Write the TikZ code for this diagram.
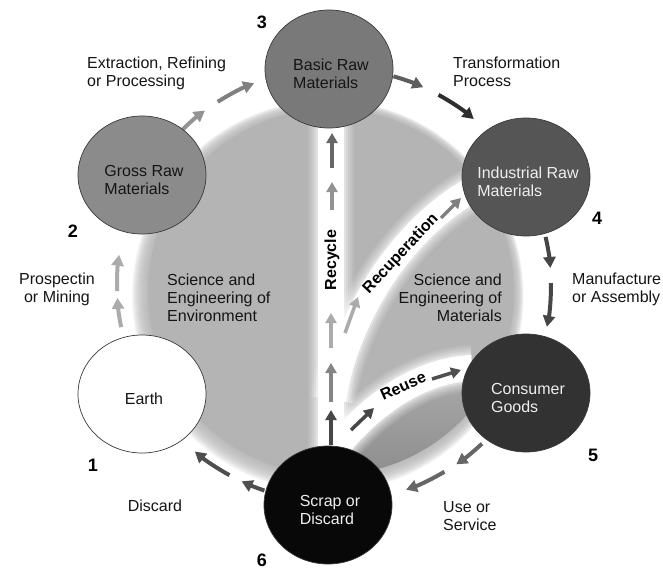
\documentclass[tikz,border=0pt]{standalone}
\usepackage{fontspec}
\setmainfont{Liberation Sans}
\usetikzlibrary{arrows.meta,shapes.geometric}
\definecolor{discgrey}{HTML}{B4B4B4}
\definecolor{lenstop}{HTML}{ABABAB}
\definecolor{lensbot}{HTML}{8C8C8C}
\definecolor{stageline}{HTML}{3A3A3A}
\definecolor{ink}{HTML}{151515}
\definecolor{lighttext}{HTML}{EEEEEE}
\definecolor{grossfill}{HTML}{8B8B8B}
\definecolor{basicfill}{HTML}{797979}
\definecolor{indfill}{HTML}{555555}
\definecolor{consfill}{HTML}{323232}
\definecolor{scrapfill}{HTML}{080808}
\definecolor{arrA}{HTML}{ABABAB}
\definecolor{arrB}{HTML}{939393}
\definecolor{arrC}{HTML}{808080}
\definecolor{arrD}{HTML}{5E5E5E}
\definecolor{arrE}{HTML}{2E2E2E}
\definecolor{arrF}{HTML}{464646}
\definecolor{arrG}{HTML}{666666}
\definecolor{arrH}{HTML}{4F4F4F}
\tikzset{
  stage/.style={ellipse,draw=stageline,line width=0.7pt,
                minimum width=128pt,minimum height=118pt,inner sep=0pt},
  stagetext/.style={align=left,xshift=2pt,yshift=-5pt,
                    font=\fontsize{16}{18}\selectfont},
  stepnum/.style={font=\fontsize{18}{20}\selectfont\bfseries,inner sep=0pt},
  note/.style={font=\fontsize{16}{18}\selectfont,inner sep=0pt,text=ink},
  bandtext/.style={font=\fontsize{16}{18}\selectfont\bfseries,inner sep=0pt},
  cyclearr/.style={-{Triangle[length=11pt,width=12pt]},line width=4pt},
  bandarr/.style={-{Triangle[length=10pt,width=11pt]},line width=3.5pt}
}

\begin{document}
\begin{tikzpicture}[x=1pt,y=-1pt]
  \fill[white] (0,0) rectangle (663,570);
  \useasboundingbox (0,0) rectangle (663,570);
  \coordinate (disc) at (331,292);
  \coordinate (ring) at (334,285);
  % ---- the grey disc, soft rim first ----
  \foreach \i in {1,...,16}
    \fill[discgrey,opacity=0.11] ([shift={(-0.2*\i,0.25*\i)}]disc) circle[radius=183+0.8*\i];
  \fill[discgrey] (disc) circle[radius=183];
  \begin{scope}
    \clip (disc) circle[radius=183];
    \shade[top color=lenstop,bottom color=lensbot]
      (333,452) .. controls (372,402) and (422,370) .. (472,368)
      -- (530,368) -- (530,480) -- (333,480) -- cycle;
  \end{scope}
  % ---- white bands: recycle, recuperation, reuse ----
  \foreach \w/\o in {46/0.1,42/0.12,38/0.15,34/0.2,30/0.3,26/1} {
    \draw[white,line width=\w pt,opacity=\o] (331,452) -- (331,125);
    \draw[white,line width=\w pt,opacity=\o]
      (333,400) .. controls (345,320) and (400,230) .. (472,190);
    \draw[white,line width=\w pt,opacity=\o]
      (333,452) .. controls (372,402) and (422,370) .. (472,368);
  }
  % ---- arrows round the cycle ----
  \foreach \a/\b/\c in {168.8/176.6/arrA, 178.4/188/arrA,
                        225/233.5/arrB, 237.6/248.4/arrC,
                        285.9/294.3/arrD, 298.8/310.1/arrE,
                        347.2/355.5/arrF, 359.5/371.1/arrF,
                        47/55.7/arrG, 59.4/70.6/arrG,
                        108.7/115.2/arrH, 118.8/129.9/arrH}
    \draw[cyclearr,color=\c] ([shift={(\a:217)}]ring) arc[start angle=\a,end angle=\b,radius=217];
  % ---- arrows along the bands ----
  \draw[bandarr,color=arrF] (331,445) -- (331,410);
  \draw[bandarr,color=arrG!80!white] (331,402) -- (331,363);
  \draw[bandarr,color=arrA] (331,348) -- (331,313);
  \draw[bandarr,color=arrB] (332,210) -- (332,182);
  \draw[bandarr,color=arrG] (332,168) -- (332,133);
  \draw[bandarr,color=arrA] (345,333) -- (358,297);
  \draw[bandarr,color=arrC] (441,218) -- (461,198);
  \draw[bandarr,color=arrF] (351,430) -- (374,408);
  \draw[bandarr,color=arrH] (432,379) -- (461,370);
  \node[bandtext,rotate=90] (recycle) at (332,260) {Recycle};
  \node[bandtext,rotate=47] (recup) at (401,254) {Recuperation};
  \node[bandtext,rotate=24] (reuse) at (403,386) {Reuse};
  % ---- texts ----
  \node[note,align=left,anchor=west] (env) at (167,298) {Science and\\Engineering of\\Environment};
  \node[note,align=right,anchor=east] (mat) at (502,298) {Science and\\Engineering of\\Materials};
  \node[note,align=left,anchor=west] (extr) at (87,73) {Extraction, Refining\\or Processing};
  \node[note,align=left,anchor=west] (trans) at (453,72) {Transformation\\Process};
  \node[note,align=left,anchor=west] (manu) at (572,289) {Manufacture\\or Assembly};
  \node[note,align=left,anchor=west] (use) at (443,516) {Use or\\Service};
  \node[note] (discard) at (155,506) {Discard};
  \node[note,align=center] (pros) at (57,289) {Prospectin\\or Mining};
  % ---- the six stages ----
  \node[stage,fill=white,label={[stagetext,text=ink]center:Earth}] (earth) at (142,394) {};
  \node[stage,fill=grossfill,label={[stagetext,text=ink]center:Gross Raw\\Materials}] (gross) at (142,175) {};
  \node[stage,fill=basicfill,label={[stagetext,text=ink]center:Basic Raw\\Materials}] (basic) at (329,69) {};
  \node[stage,fill=indfill,label={[stagetext,text=lighttext]center:Industrial Raw\\Materials}] (indus) at (526,177) {};
  \node[stage,fill=consfill,label={[stagetext,text=lighttext]center:Consumer\\Goods}] (cons) at (526,393) {};
  \node[stage,fill=scrapfill,label={[stagetext,text=lighttext]center:Scrap or\\Discard}] (scrap) at (328,505) {};
  \node[stepnum] (n1) at (93,465) {1};
  \node[stepnum] (n2) at (73,231) {2};
  \node[stepnum] (n3) at (262,22) {3};
  \node[stepnum] (n4) at (597,218) {4};
  \node[stepnum] (n5) at (593,455) {5};
  \node[stepnum] (n6) at (262,560) {6};
\end{tikzpicture}
\end{document}
